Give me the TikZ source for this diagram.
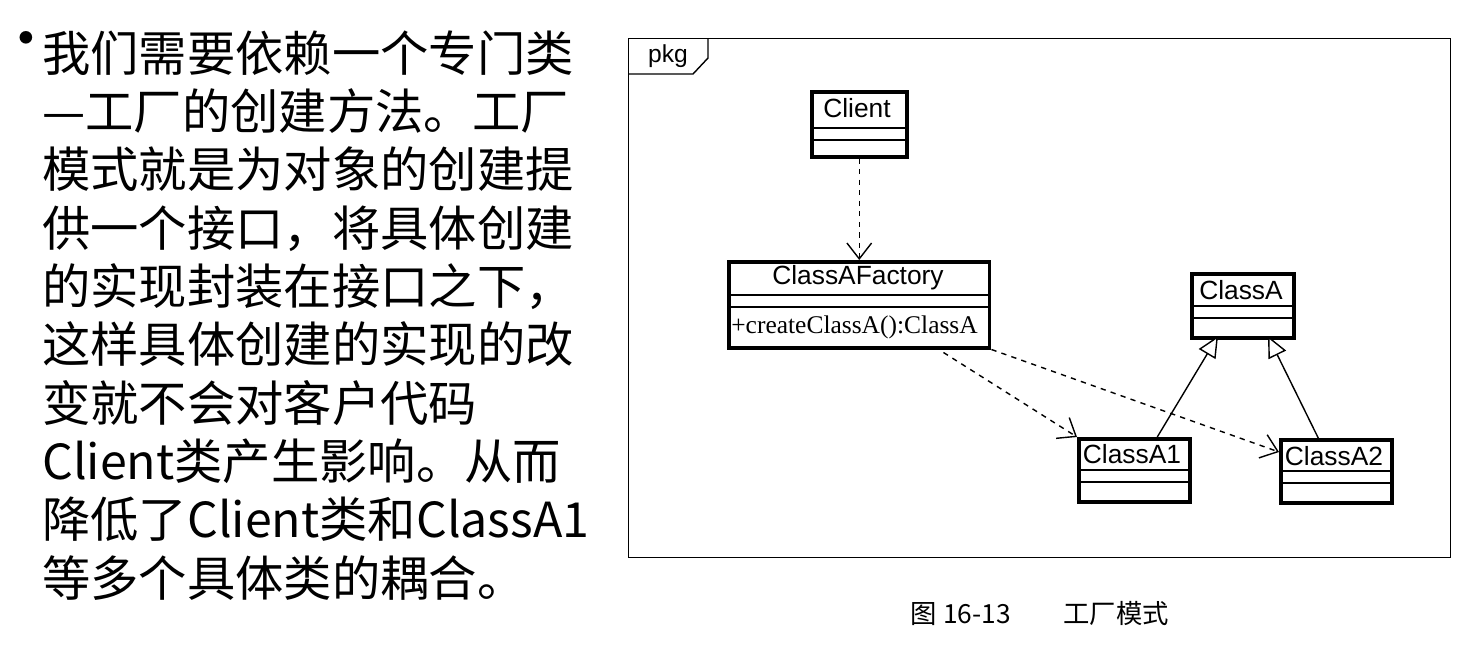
\documentclass[tikz,border=0pt]{standalone}
\usepackage{fontspec}
\setmainfont{Liberation Serif}
\newfontfamily\cjk{Noto Sans CJK SC}
\newfontfamily\umlsf{Liberation Sans}
\usetikzlibrary{arrows.meta,positioning}
\tikzset{
	cls/.style={draw=black, line width=2pt, rectangle, inner sep=0pt, anchor=north west},
	sep/.style={line width=0.6pt},
	dep/.style={dashed, line width=0.8pt, -{Straight Barb[length=9pt,width=14pt]}},
	inh/.style={line width=0.8pt, -{Triangle[open,length=12pt,width=11pt,fill=white]}}
}
\begin{document}
\begin{tikzpicture}[x=0.02cm, y=-0.02cm]
	\useasboundingbox (0,0) rectangle (1469,649);

	% text column
	\node[inner sep=0pt, font=\cjk\fontsize{34}{34}\selectfont] (dot) at (26,46) {•};
	\node[anchor=north west, align=left, inner sep=0pt, font=\cjk\fontsize{27.5}{33.2}\selectfont] (txt) at (42,30) {我们需要依赖一个专门类\\—工厂的创建方法。工厂\\模式就是为对象的创建提\\供一个接口，将具体创建\\的实现封装在接口之下，\\这样具体创建的实现的改\\变就不会对客户代码\\Client类产生影响。从而\\降低了Client类和ClassA1\\等多个具体类的耦合。};

	% frame
	\node[draw, line width=0.8pt, rectangle, anchor=north west, minimum width=16.44cm, minimum height=10.38cm, inner sep=0pt] (pkg) at (628,38) {};
	\draw[line width=0.8pt] (708,38) -- (708,58) -- (693,74) -- (628,74);
	\node[font=\umlsf\fontsize{14}{14}\selectfont] (pkgl) at (668,56) {pkg};

	% classes
	\node[cls, minimum width=1.9cm, minimum height=1.3cm] (client) at (810,90) {};
	\node[cls, minimum width=5.22cm, minimum height=1.72cm] (fac) at (727,260) {};
	\node[cls, minimum width=2.04cm, minimum height=1.28cm] (ca) at (1190,272) {};
	\node[cls, minimum width=2.22cm, minimum height=1.26cm] (ca1) at (1077,437) {};
	\node[cls, minimum width=2.22cm, minimum height=1.26cm] (ca2) at (1279,438) {};

	\foreach \n/\a/\w in {client/38/95, fac/35/261, ca/34/102, ca1/33/111, ca2/33/111} {
		\draw[sep] (\n.north west) ++(0,\a) -- ++(\w,0);
		\draw[sep] (\n.north west) ++(0,\a+12) -- ++(\w,0);
	}

	\node[font=\umlsf\fontsize{15}{15}\selectfont] (clientl) at (857,108) {Client};
	\node[font=\umlsf\fontsize{15}{15}\selectfont] (facl) at (858,278) {ClassAFactory};
	\node[font=\fontsize{14.5}{14.5}\selectfont, anchor=west, inner sep=0pt] (facm) at (731,327) {+createClassA():ClassA};
	\node[font=\umlsf\fontsize{15}{15}\selectfont] (cal) at (1241,290) {ClassA};
	\node[font=\umlsf\fontsize{15}{15}\selectfont] (ca1l) at (1132,454) {ClassA1};
	\node[font=\umlsf\fontsize{15}{15}\selectfont] (ca2l) at (1334,456) {ClassA2};

	% connectors
	\draw[dep] (client.south) -- (fac.north -| client.south);
	\draw[dep] (fac.south east) ++(-48,3) coordinate (f1) (f1) -- (ca1.north west);
	\draw[dep] (fac.south east) -- (ca2.north west |- 0,452);
	\draw[inh] (ca1.north) ++(23,0) coordinate (i1) (i1) -- (1218,336);
	\draw[inh] (ca2.north) ++(-18,0) coordinate (i2) (i2) -- (1268,336);

	% caption
	\node[font=\cjk\fontsize{15}{15}\selectfont] (cap) at (1040,614) {图 16-13\hspace{2em}工厂模式};
\end{tikzpicture}
\end{document}
